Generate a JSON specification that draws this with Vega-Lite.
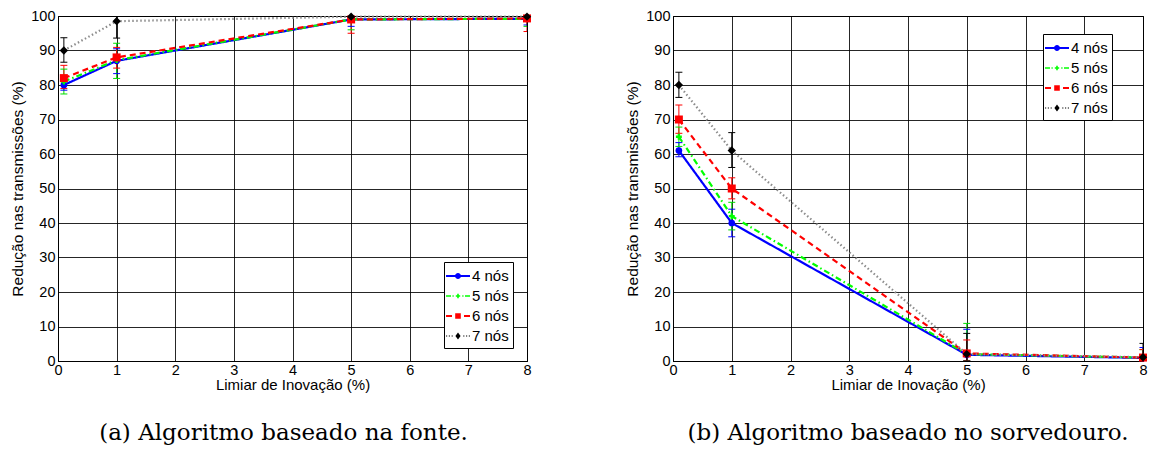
{
  "$schema": "https://vega.github.io/schema/vega-lite/v6.json",
  "padding": {"left": 10, "top": 7, "right": 0, "bottom": 0},
  "background": "white",
  "datasets": {
    "fonte": [
      {"series": "4 nós", "x": 0.1, "y": 80, "lo": 78.5, "hi": 82.3},
      {"series": "4 nós", "x": 1, "y": 87, "lo": 83.3, "hi": 90.5},
      {"series": "4 nós", "x": 5, "y": 99, "lo": 97, "hi": 101},
      {"series": "4 nós", "x": 8, "y": 99.2, "lo": 97.4, "hi": 101},
      {"series": "5 nós", "x": 0.1, "y": 81, "lo": 77.4, "hi": 84.6},
      {"series": "5 nós", "x": 1, "y": 87.2, "lo": 81.9, "hi": 92.1},
      {"series": "5 nós", "x": 5, "y": 99, "lo": 96, "hi": 102},
      {"series": "5 nós", "x": 8, "y": 99.2, "lo": 97, "hi": 101.4},
      {"series": "6 nós", "x": 0.1, "y": 82, "lo": 79, "hi": 85.7},
      {"series": "6 nós", "x": 1, "y": 88, "lo": 84.9, "hi": 90.9},
      {"series": "6 nós", "x": 5, "y": 99, "lo": 95, "hi": 103},
      {"series": "6 nós", "x": 8, "y": 99.3, "lo": 95.5, "hi": 103},
      {"series": "7 nós", "x": 0.1, "y": 90, "lo": 86.6, "hi": 93.7},
      {"series": "7 nós", "x": 1, "y": 98.5, "lo": 93.6, "hi": 103.4},
      {"series": "7 nós", "x": 5, "y": 99.8, "lo": 99, "hi": 100.6},
      {"series": "7 nós", "x": 8, "y": 99.8, "lo": 99, "hi": 100.6}
    ],
    "sorvedouro": [
      {"series": "4 nós", "x": 0.1, "y": 61, "lo": 59.2, "hi": 63.3},
      {"series": "4 nós", "x": 1, "y": 40, "lo": 36, "hi": 44},
      {"series": "4 nós", "x": 5, "y": 1.8, "lo": 0, "hi": 9.2},
      {"series": "4 nós", "x": 8, "y": 0.9, "lo": 0, "hi": 3.9},
      {"series": "5 nós", "x": 0.1, "y": 65, "lo": 62.2, "hi": 67.8},
      {"series": "5 nós", "x": 1, "y": 42, "lo": 38, "hi": 46},
      {"series": "5 nós", "x": 5, "y": 2, "lo": 0, "hi": 10.9},
      {"series": "5 nós", "x": 8, "y": 1, "lo": 0, "hi": 3.3},
      {"series": "6 nós", "x": 0.1, "y": 70, "lo": 66, "hi": 74.2},
      {"series": "6 nós", "x": 1, "y": 50, "lo": 47, "hi": 53.1},
      {"series": "6 nós", "x": 5, "y": 2.2, "lo": 0, "hi": 6.1},
      {"series": "6 nós", "x": 8, "y": 1, "lo": 0, "hi": 3.3},
      {"series": "7 nós", "x": 0.1, "y": 80, "lo": 76.4, "hi": 83.7},
      {"series": "7 nós", "x": 1, "y": 61, "lo": 56.1, "hi": 66.2},
      {"series": "7 nós", "x": 5, "y": 2, "lo": 0, "hi": 8},
      {"series": "7 nós", "x": 8, "y": 1.1, "lo": 0, "hi": 5.1}
    ]
  },
  "hconcat": [
    {
      "width": 469,
      "height": 345,
      "data": {"name": "fonte"},
      "title": {"text": "(a) Algoritmo baseado na fonte.", "dx": -9},
      "encoding": {
        "x": {"field": "x", "type": "quantitative", "scale": {"domain": [0, 8], "nice": false},
              "axis": {"values": [0, 1, 2, 3, 4, 5, 6, 7, 8], "format": "d", "title": "Limiar de Inovação (%)"}},
        "y": {"field": "y", "type": "quantitative", "scale": {"domain": [0, 100], "nice": false},
              "axis": {"values": [0, 10, 20, 30, 40, 50, 60, 70, 80, 90, 100], "title": "Redução nas transmissões (%)"}}
      },
      "layer": [
        {"mark": {"type": "rule", "strokeWidth": 1, "clip": true},
         "encoding": {"y": {"field": "lo", "type": "quantitative", "title": "Redução nas transmissões (%)"}, "y2": {"field": "hi"},
                      "color": {"field": "series", "type": "nominal", "scale": {"range": ["#0000ff", "#00dd00", "#ff0000", "#000000"]}, "legend": null}}},
        {"mark": {"type": "rule", "strokeWidth": 1, "xOffset": -3.5, "x2Offset": 3.5, "clip": true},
         "encoding": {"x2": {"field": "x"}, "y": {"field": "lo", "type": "quantitative", "title": "Redução nas transmissões (%)"},
                      "color": {"field": "series", "type": "nominal", "legend": null}}},
        {"mark": {"type": "rule", "strokeWidth": 1, "xOffset": -3.5, "x2Offset": 3.5, "clip": true},
         "encoding": {"x2": {"field": "x"}, "y": {"field": "hi", "type": "quantitative", "title": "Redução nas transmissões (%)"},
                      "color": {"field": "series", "type": "nominal", "legend": null}}},
        {"mark": {"type": "line"},
         "encoding": {
           "stroke": {"field": "series", "type": "nominal", "scale": {"range": ["#0000ff", "#00ff00", "#ff0000", "#8c8c8c"]}, "legend": null},
           "strokeDash": {"field": "series", "type": "nominal", "scale": {"range": [[1, 0], [6, 3, 1.5, 3], [6, 4], [1.5, 2.5]]}, "legend": null},
           "strokeWidth": {"field": "series", "type": "nominal", "scale": {"range": [2.2, 2.2, 2.4, 1.5]}, "legend": null}}},
        {"transform": [{"filter": "datum.series === '4 nós'"}], "mark": {"type": "point", "shape": "circle", "filled": true, "opacity": 1, "size": 45, "color": "#0000ff"}},
        {"transform": [{"filter": "datum.series === '5 nós'"}], "mark": {"type": "point", "shape": "cross", "filled": true, "opacity": 1, "size": 35, "color": "#00ff00"}},
        {"transform": [{"filter": "datum.series === '6 nós'"}], "mark": {"type": "point", "shape": "square", "filled": true, "opacity": 1, "size": 64, "color": "#ff0000"}},
        {"transform": [{"filter": "datum.series === '7 nós'"}], "mark": {"type": "point", "shape": "diamond", "filled": true, "opacity": 1, "size": 70, "color": "#000000"}},
        {"transform": [{"filter": "false"}], "mark": {"type": "point", "filled": true},
         "encoding": {
           "shape": {"field": "series", "type": "nominal",
                     "scale": {"domain": ["4 nós", "5 nós", "6 nós", "7 nós"],
                               "range": ["M-1.2,-0.09H1.2V0.09H-1.2Z M0.3,0A0.3,0.3 0 1,1 -0.3,0A0.3,0.3 0 1,1 0.3,0Z",
                                         "M-1.2,-0.08H-0.7V0.08H-1.2Z M-0.55,-0.08H-0.43V0.08H-0.55Z M-0.22,-0.08H0.22V0.08H-0.22Z M-0.08,-0.22H0.08V0.22H-0.08Z M0.43,-0.08H0.55V0.08H0.43Z M0.7,-0.08H1.2V0.08H0.7Z",
                                         "M-1.2,-0.09H-0.6V0.09H-1.2Z M-0.28,-0.28H0.28V0.28H-0.28Z M0.6,-0.09H1.2V0.09H0.6Z",
                                         "M-1.2,-0.06h0.12v0.12h-0.12Z M-0.92,-0.06h0.12v0.12h-0.12Z M-0.64,-0.06h0.12v0.12h-0.12Z M0,-0.34L0.26,0L0,0.34L-0.26,0Z M0.52,-0.06h0.12v0.12h-0.12Z M0.8,-0.06h0.12v0.12h-0.12Z M1.08,-0.06h0.12v0.12h-0.12Z"]},
                     "legend": {"orient": "none", "legendX": 386, "legendY": 246, "title": null}},
           "fill": {"field": "series", "type": "nominal",
                    "scale": {"domain": ["4 nós", "5 nós", "6 nós", "7 nós"], "range": ["#0000ff", "#00ff00", "#ff0000", "#000000"]},
                    "legend": {"orient": "none", "legendX": 386, "legendY": 246, "title": null}}}}
      ]
    },
    {
      "width": 470,
      "height": 345,
      "data": {"name": "sorvedouro"},
      "title": {"text": "(b) Algoritmo baseado no sorvedouro."},
      "encoding": {
        "x": {"field": "x", "type": "quantitative", "scale": {"domain": [0, 8], "nice": false},
              "axis": {"values": [0, 1, 2, 3, 4, 5, 6, 7, 8], "format": "d", "title": "Limiar de Inovação (%)"}},
        "y": {"field": "y", "type": "quantitative", "scale": {"domain": [0, 100], "nice": false},
              "axis": {"values": [0, 10, 20, 30, 40, 50, 60, 70, 80, 90, 100], "title": "Redução nas transmissões (%)"}}
      },
      "layer": [
        {"mark": {"type": "rule", "strokeWidth": 1, "clip": true},
         "encoding": {"y": {"field": "lo", "type": "quantitative", "title": "Redução nas transmissões (%)"}, "y2": {"field": "hi"},
                      "color": {"field": "series", "type": "nominal", "scale": {"range": ["#0000ff", "#00dd00", "#ff0000", "#000000"]}, "legend": null}}},
        {"mark": {"type": "rule", "strokeWidth": 1, "xOffset": -3.5, "x2Offset": 3.5, "clip": true},
         "encoding": {"x2": {"field": "x"}, "y": {"field": "lo", "type": "quantitative", "title": "Redução nas transmissões (%)"},
                      "color": {"field": "series", "type": "nominal", "legend": null}}},
        {"mark": {"type": "rule", "strokeWidth": 1, "xOffset": -3.5, "x2Offset": 3.5, "clip": true},
         "encoding": {"x2": {"field": "x"}, "y": {"field": "hi", "type": "quantitative", "title": "Redução nas transmissões (%)"},
                      "color": {"field": "series", "type": "nominal", "legend": null}}},
        {"mark": {"type": "line"},
         "encoding": {
           "stroke": {"field": "series", "type": "nominal", "scale": {"range": ["#0000ff", "#00ff00", "#ff0000", "#8c8c8c"]}, "legend": null},
           "strokeDash": {"field": "series", "type": "nominal", "scale": {"range": [[1, 0], [6, 3, 1.5, 3], [6, 4], [1.5, 2.5]]}, "legend": null},
           "strokeWidth": {"field": "series", "type": "nominal", "scale": {"range": [2.2, 2.2, 2.4, 1.5]}, "legend": null}}},
        {"transform": [{"filter": "datum.series === '4 nós'"}], "mark": {"type": "point", "shape": "circle", "filled": true, "opacity": 1, "size": 45, "color": "#0000ff"}},
        {"transform": [{"filter": "datum.series === '5 nós'"}], "mark": {"type": "point", "shape": "cross", "filled": true, "opacity": 1, "size": 35, "color": "#00ff00"}},
        {"transform": [{"filter": "datum.series === '6 nós'"}], "mark": {"type": "point", "shape": "square", "filled": true, "opacity": 1, "size": 64, "color": "#ff0000"}},
        {"transform": [{"filter": "datum.series === '7 nós'"}], "mark": {"type": "point", "shape": "diamond", "filled": true, "opacity": 1, "size": 70, "color": "#000000"}},
        {"transform": [{"filter": "false"}], "mark": {"type": "point", "filled": true},
         "encoding": {
           "shape": {"field": "series", "type": "nominal",
                     "scale": {"domain": ["4 nós", "5 nós", "6 nós", "7 nós"],
                               "range": ["M-1.2,-0.09H1.2V0.09H-1.2Z M0.3,0A0.3,0.3 0 1,1 -0.3,0A0.3,0.3 0 1,1 0.3,0Z",
                                         "M-1.2,-0.08H-0.7V0.08H-1.2Z M-0.55,-0.08H-0.43V0.08H-0.55Z M-0.22,-0.08H0.22V0.08H-0.22Z M-0.08,-0.22H0.08V0.22H-0.08Z M0.43,-0.08H0.55V0.08H0.43Z M0.7,-0.08H1.2V0.08H0.7Z",
                                         "M-1.2,-0.09H-0.6V0.09H-1.2Z M-0.28,-0.28H0.28V0.28H-0.28Z M0.6,-0.09H1.2V0.09H0.6Z",
                                         "M-1.2,-0.06h0.12v0.12h-0.12Z M-0.92,-0.06h0.12v0.12h-0.12Z M-0.64,-0.06h0.12v0.12h-0.12Z M0,-0.34L0.26,0L0,0.34L-0.26,0Z M0.52,-0.06h0.12v0.12h-0.12Z M0.8,-0.06h0.12v0.12h-0.12Z M1.08,-0.06h0.12v0.12h-0.12Z"]},
                     "legend": {"orient": "none", "legendX": 370, "legendY": 18, "title": null}},
           "fill": {"field": "series", "type": "nominal",
                    "scale": {"domain": ["4 nós", "5 nós", "6 nós", "7 nós"], "range": ["#0000ff", "#00ff00", "#ff0000", "#000000"]},
                    "legend": {"orient": "none", "legendX": 370, "legendY": 18, "title": null}}}}
      ]
    }
  ],
  "spacing": 146,
  "bounds": "flush",
  "resolve": {
    "scale": {"color": "independent", "shape": "independent", "fill": "independent", "stroke": "independent", "strokeDash": "independent", "strokeWidth": "independent"},
    "legend": {"shape": "independent", "fill": "independent"}
  },
  "config": {
    "font": "Liberation Sans",
    "view": {"stroke": "#000000", "strokeWidth": 1},
    "axis": {
      "grid": true, "gridColor": "#000000", "gridOpacity": 0.85, "gridWidth": 1,
      "domain": true, "domainColor": "#000000", "domainWidth": 1,
      "ticks": false,
      "labelFont": "Liberation Sans", "labelFontSize": 14.5, "labelColor": "#000000", "labelPadding": 3,
      "labelFlush": false, "labelOverlap": false,
      "titleFont": "Liberation Sans", "titleFontWeight": "normal", "titleColor": "#000000"
    },
    "axisX": {"labelPadding": 2, "titlePadding": 1, "titleFontSize": 15},
    "axisY": {"titlePadding": 5, "titleFontSize": 15.5},
    "legend": {
      "strokeColor": "#000000", "fillColor": "#ffffff", "padding": 4, "cornerRadius": 0,
      "symbolSize": 400, "symbolStrokeWidth": 0, "symbolOpacity": 1,
      "labelFont": "Liberation Sans", "labelFontSize": 15, "labelColor": "#000000", "labelOffset": 4,
      "rowPadding": 2
    },
    "title": {
      "orient": "bottom", "anchor": "middle", "frame": "group", "offset": 29,
      "font": "DejaVu Serif", "fontSize": 23, "fontWeight": "normal", "color": "#000000"
    }
  }
}
